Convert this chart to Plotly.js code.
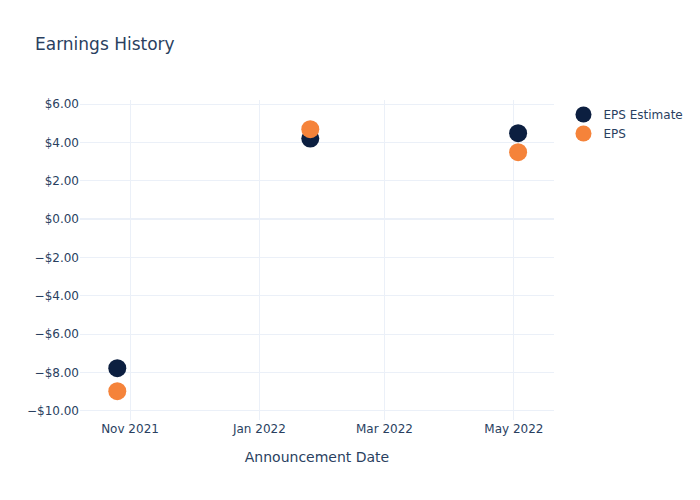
<!DOCTYPE html>
<html>
<head>
<meta charset="utf-8">
<script src="https://cdn.plot.ly/plotly-3.0.1.min.js"></script>
<style>html,body{margin:0;padding:0;}#chart{width:700px;height:500px;}</style>
</head>
<body>
<div id="chart"></div>
<script>
const dates = ["2021-10-26", "2022-01-25", "2022-05-03"];
const epsEstimate = [-7.77, 4.2, 4.48];
const epsActual = [-8.97, 4.69, 3.49];
const seriesNames = ["EPS Estimate", "EPS"];
const colors = ["#0c1f40", "#f5833a"];

const traces = [
  {x: dates, y: epsEstimate, name: seriesNames[0], type: "scatter", mode: "markers",
   marker: {color: colors[0], size: 18}},
  {x: dates, y: epsActual, name: seriesNames[1], type: "scatter", mode: "markers",
   marker: {color: colors[1], size: 18}}
];

const layout = {
  template: "plotly_white",
  width: 700, height: 500,
  font: {family: "DejaVu Sans, sans-serif", size: 12, color: "#2a3f5f"},
  title: {text: "Earnings History", x: 0.05, font: {size: 17}},
  plot_bgcolor: "white", paper_bgcolor: "white",
  xaxis: {title: {text: "Announcement Date", font: {size: 14}, standoff: 17}, type: "date",
    range: ["2021-10-08 10:00", "2022-05-19 22:00"],
    gridcolor: "#ebf0f8", tickformat: "%b %Y", dtick: "M2", tick0: "2021-11-01", showline: false, zeroline: false},
  yaxis: {tickformat: "$,.2f", dtick: 2, range: [-10.47, 6.21], gridcolor: "#ebf0f8", zerolinecolor: "#ebf0f8", zerolinewidth: 2},
  legend: {font: {size: 12}},
  margin: {l: 80, r: 80, t: 100, b: 80}
};

Plotly.newPlot("chart", traces, layout, {displayModeBar: false});
</script>
</body>
</html>
